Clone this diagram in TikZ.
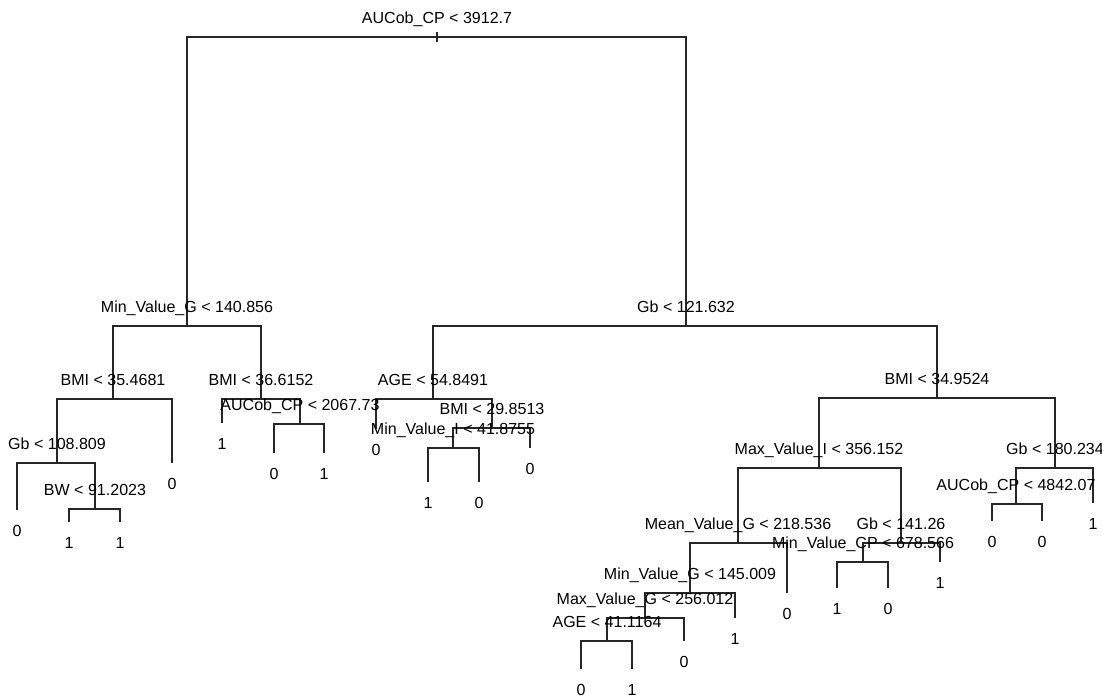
\documentclass[tikz,border=0pt]{standalone}
\usepackage{fontspec}
\setmainfont{Liberation Sans}
\usetikzlibrary{positioning}
\tikzset{
  splitlab/.style={anchor=base,yshift=0.335cm,inner sep=0pt,
    font=\fontsize{11.4}{13}\selectfont,text=black},
  leaflab/.style={anchor=base,yshift=-0.655cm,inner sep=0pt,
    font=\fontsize{11.4}{13}\selectfont,text=black},
  branch/.style={draw=black!85,line width=0.75pt},
}
\begin{document}
\begin{tikzpicture}[x=0.025cm,y=-0.025cm]
  \fill[white] (0,0) rectangle (1102,697);
  \useasboundingbox (0,0) rectangle (1102,697);

  % split points
  \coordinate (n1) at (437,37);
  \coordinate (n2) at (187,326);
  \coordinate (n3) at (686,326);
  \coordinate (n4) at (113,399);
  \coordinate (n5) at (261,399);
  \coordinate (n8) at (57,463);
  \coordinate (n17) at (95,509);
  \coordinate (n11) at (300,424);
  \coordinate (n6) at (433,399);
  \coordinate (n13) at (492,428);
  \coordinate (n26) at (453,448);
  \coordinate (n7) at (937,398);
  \coordinate (n14) at (819,468);
  \coordinate (n28) at (738,543);
  \coordinate (n56) at (690,593);
  \coordinate (n112) at (645,618);
  \coordinate (n224) at (607,641);
  \coordinate (n29) at (901,543);
  \coordinate (n58) at (863,562);
  \coordinate (n15) at (1055,468);
  \coordinate (n30) at (1016,504);

  % leaf ends
  \coordinate (l9) at (172,463);
  \coordinate (l16) at (17,510);
  \coordinate (l34) at (69,522);
  \coordinate (l35) at (120,522);
  \coordinate (l10) at (222,423);
  \coordinate (l22) at (274,453);
  \coordinate (l23) at (324,453);
  \coordinate (l12) at (376,429);
  \coordinate (l52) at (428,482);
  \coordinate (l53) at (479,482);
  \coordinate (l27) at (530,448);
  \coordinate (l448) at (581,669);
  \coordinate (l449) at (632,669);
  \coordinate (l225) at (684,641);
  \coordinate (l113) at (735,618);
  \coordinate (l57) at (787,593);
  \coordinate (l116) at (837,588);
  \coordinate (l117) at (888,588);
  \coordinate (l59) at (940,562);
  \coordinate (l60) at (992,521);
  \coordinate (l61) at (1042,521);
  \coordinate (l31) at (1093,503);

  % branches
  \foreach \p/\c in {n1/n2,n1/n3,n2/n4,n2/n5,n4/n8,n4/l9,n8/l16,n8/n17,
      n17/l34,n17/l35,n5/l10,n5/n11,n11/l22,n11/l23,n3/n6,n3/n7,
      n6/l12,n6/n13,n13/n26,n13/l27,n26/l52,n26/l53,n7/n14,n7/n15,
      n14/n28,n14/n29,n28/n56,n28/l57,n56/n112,n56/l113,n112/n224,
      n112/l225,n224/l448,n224/l449,n29/n58,n29/l59,n58/l116,n58/l117,
      n15/n30,n15/l31,n30/l60,n30/l61}
    \draw[branch] (\p) -| (\c);
  \draw[branch] (n1) ++(0,-5) -- ++(0,10);

  % split labels
  \node[splitlab] (s1) at (n1) {AUCob\_CP < 3912.7};
  \node[splitlab] (s2) at (n2) {Min\_Value\_G < 140.856};
  \node[splitlab] (s3) at (n3) {Gb < 121.632};
  \node[splitlab] (s4) at (n4) {BMI < 35.4681};
  \node[splitlab] (s5) at (n5) {BMI < 36.6152};
  \node[splitlab] (s8) at (n8) {Gb < 108.809};
  \node[splitlab] (s17) at (n17) {BW < 91.2023};
  \node[splitlab] (s11) at (n11) {AUCob\_CP < 2067.73};
  \node[splitlab] (s6) at (n6) {AGE < 54.8491};
  \node[splitlab] (s13) at (n13) {BMI < 29.8513};
  \node[splitlab] (s26) at (n26) {Min\_Value\_I < 41.8755};
  \node[splitlab] (s7) at (n7) {BMI < 34.9524};
  \node[splitlab] (s14) at (n14) {Max\_Value\_I < 356.152};
  \node[splitlab] (s28) at (n28) {Mean\_Value\_G < 218.536};
  \node[splitlab] (s56) at (n56) {Min\_Value\_G < 145.009};
  \node[splitlab] (s112) at (n112) {Max\_Value\_G < 256.012};
  \node[splitlab] (s224) at (n224) {AGE < 41.1164};
  \node[splitlab] (s29) at (n29) {Gb < 141.26};
  \node[splitlab] (s58) at (n58) {Min\_Value\_CP < 678.566};
  \node[splitlab] (s15) at (n15) {Gb < 180.234};
  \node[splitlab] (s30) at (n30) {AUCob\_CP < 4842.07};

  % leaf labels
  \node[leaflab] (t9) at (l9) {0};
  \node[leaflab] (t16) at (l16) {0};
  \node[leaflab] (t34) at (l34) {1};
  \node[leaflab] (t35) at (l35) {1};
  \node[leaflab] (t10) at (l10) {1};
  \node[leaflab] (t22) at (l22) {0};
  \node[leaflab] (t23) at (l23) {1};
  \node[leaflab] (t12) at (l12) {0};
  \node[leaflab] (t52) at (l52) {1};
  \node[leaflab] (t53) at (l53) {0};
  \node[leaflab] (t27) at (l27) {0};
  \node[leaflab] (t448) at (l448) {0};
  \node[leaflab] (t449) at (l449) {1};
  \node[leaflab] (t225) at (l225) {0};
  \node[leaflab] (t113) at (l113) {1};
  \node[leaflab] (t57) at (l57) {0};
  \node[leaflab] (t116) at (l116) {1};
  \node[leaflab] (t117) at (l117) {0};
  \node[leaflab] (t59) at (l59) {1};
  \node[leaflab] (t60) at (l60) {0};
  \node[leaflab] (t61) at (l61) {0};
  \node[leaflab] (t31) at (l31) {1};
\end{tikzpicture}
\end{document}
